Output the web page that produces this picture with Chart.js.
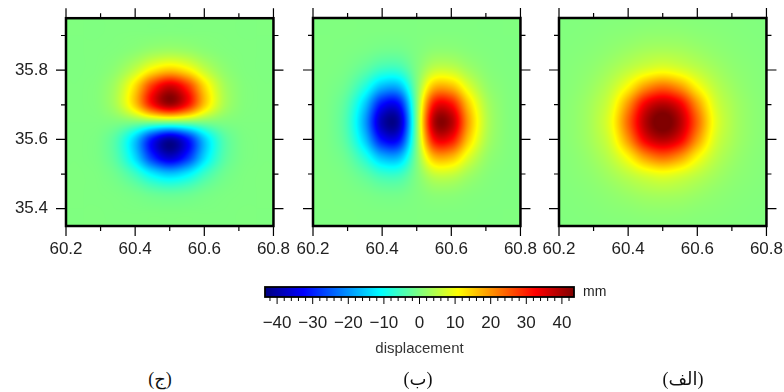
<!DOCTYPE html>
<html>
<head>
<meta charset="utf-8">
<script src="https://cdn.jsdelivr.net/npm/chart.js@4.4.1/dist/chart.umd.min.js"></script>
<style>
  body { margin: 0; width: 784px; height: 392px; overflow: hidden; background: #fff; position: relative; }
  canvas.panel { position: absolute; top: 0; }
  #colorbar { position: absolute; left: 240px; top: 270px; }
  .tag { position: absolute; top: 368px; font-family: "Liberation Serif", "DejaVu Sans", serif; font-size: 18px; color: #111; transform: translateX(-50%); }
</style>
</head>
<body>
<canvas id="panelJim" class="panel" width="296" height="270" style="left:0px"></canvas>
<canvas id="panelBe" class="panel" width="296" height="270" style="left:247px"></canvas>
<canvas id="panelAlef" class="panel" width="296" height="270" style="left:493px"></canvas>
<canvas id="colorbar" width="380" height="100"></canvas>
<div class="tag" dir="rtl" style="left:160px">(ج)</div>
<div class="tag" dir="rtl" style="left:418px">(ب)</div>
<div class="tag" dir="rtl" style="left:683px">(الف)</div>

<script>
// Displacement maps (mm) on a 0.05 degree grid
const LON = [60.2, 60.25, 60.3, 60.35, 60.4, 60.45, 60.5, 60.55, 60.6, 60.65, 60.7, 60.75, 60.8];
// north to south, so rows read like the picture
const LAT = [35.95, 35.9, 35.85, 35.8, 35.75, 35.7, 35.65, 35.6, 35.55, 35.5, 35.45, 35.4, 35.35];

const LON_LABELS = [60.2, 60.4, 60.6, 60.8];
const LON_MINOR = [60.3, 60.5, 60.7];
const LAT_LABELS = [35.4, 35.6, 35.8];
const LAT_MINOR = [35.5, 35.7, 35.9];

const CB_MIN = -43.4;
const CB_MAX = 43.4;
const CB_LABELS = [-40, -30, -20, -10, 0, 10, 20, 30, 40];
const CB_MINOR = [-42, -38, -36, -34, -32, -28, -26, -24, -22, -18, -16, -14, -12, -8, -6, -4, -2,
                  2, 4, 6, 8, 12, 14, 16, 18, 22, 24, 26, 28, 32, 34, 36, 38, 42];

// (ج) north component
const GRID_JIM = [
  [0, 0, 0, 0, 0, 0, 0, 0, 0, 0, 0, 0, 0],
  [0, 0, 0, 0.1, 0.2, 0.3, 0.4, 0.3, 0.2, 0.1, 0, 0, 0],
  [0, 0, 0.1, 0.4, 1.3, 2.8, 3.5, 2.8, 1.3, 0.4, 0.1, 0, 0],
  [0, 0, 0.3, 1.8, 5.9, 12.3, 15.6, 12.3, 5.9, 1.8, 0.3, 0, 0],
  [0, 0.1, 0.8, 4.3, 14.2, 29.4, 37.4, 29.4, 14.2, 4.3, 0.8, 0.1, 0],
  [0, 0.1, 0.8, 4.6, 15.3, 31.6, 40.2, 31.6, 15.3, 4.6, 0.8, 0.1, 0],
  [0, 0, 0, 0, 0, 0, 0, 0, 0, 0, 0, 0, 0],
  [0, -0.1, -0.8, -4.6, -15.3, -31.6, -40.2, -31.6, -15.3, -4.6, -0.8, -0.1, 0],
  [0, -0.1, -0.8, -4.3, -14.2, -29.4, -37.4, -29.4, -14.2, -4.3, -0.8, -0.1, 0],
  [0, 0, -0.3, -1.8, -5.9, -12.3, -15.6, -12.3, -5.9, -1.8, -0.3, 0, 0],
  [0, 0, -0.1, -0.4, -1.3, -2.8, -3.5, -2.8, -1.3, -0.4, -0.1, 0, 0],
  [0, 0, 0, -0.1, -0.2, -0.3, -0.4, -0.3, -0.2, -0.1, 0, 0, 0],
  [0, 0, 0, 0, 0, 0, 0, 0, 0, 0, 0, 0, 0]
];

// (ب) east component
const GRID_BE = [
  [0, 0, 0, 0, 0, 0, 0, 0, 0, 0, 0, 0, 0],
  [0, 0, 0, -0.1, -0.2, -0.2, 0, 0.2, 0.2, 0.1, 0, 0, 0],
  [0, 0, -0.2, -0.7, -1.5, -1.5, 0, 1.5, 1.5, 0.7, 0.2, 0, 0],
  [0, -0.1, -0.8, -3.0, -6.2, -6.1, 0, 6.1, 6.2, 3.0, 0.8, 0.1, 0],
  [0, -0.4, -2.2, -8.3, -17.3, -17.2, 0, 17.2, 17.3, 8.3, 2.2, 0.4, 0],
  [-0.1, -0.7, -4.2, -15.3, -32.0, -31.7, 0, 31.7, 32.0, 15.3, 4.2, 0.7, 0.1],
  [-0.1, -0.8, -5.1, -18.8, -39.3, -39.0, 0, 39.0, 39.3, 18.8, 5.1, 0.8, 0.1],
  [-0.1, -0.7, -4.2, -15.3, -32.0, -31.7, 0, 31.7, 32.0, 15.3, 4.2, 0.7, 0.1],
  [0, -0.4, -2.2, -8.3, -17.3, -17.2, 0, 17.2, 17.3, 8.3, 2.2, 0.4, 0],
  [0, -0.1, -0.8, -3.0, -6.2, -6.1, 0, 6.1, 6.2, 3.0, 0.8, 0.1, 0],
  [0, 0, -0.2, -0.7, -1.5, -1.5, 0, 1.5, 1.5, 0.7, 0.2, 0, 0],
  [0, 0, 0, -0.1, -0.2, -0.2, 0, 0.2, 0.2, 0.1, 0, 0, 0],
  [0, 0, 0, 0, 0, 0, 0, 0, 0, 0, 0, 0, 0]
];

// (الف) vertical component
const GRID_ALEF = [
  [0.1, 0.2, 0.3, 0.4, 0.5, 0.6, 0.7, 0.6, 0.5, 0.4, 0.3, 0.2, 0.1],
  [0.2, 0.3, 0.5, 0.8, 1.1, 1.5, 1.6, 1.5, 1.1, 0.8, 0.5, 0.3, 0.2],
  [0.3, 0.5, 0.9, 1.6, 2.6, 3.6, 4, 3.6, 2.6, 1.6, 0.9, 0.5, 0.3],
  [0.4, 0.8, 1.6, 3.2, 5.5, 8, 9.5, 8, 5.5, 3.2, 1.6, 0.8, 0.4],
  [0.5, 1.1, 2.6, 5.5, 11.5, 20, 24, 20, 11.5, 5.5, 2.6, 1.1, 0.5],
  [0.6, 1.5, 3.6, 8, 20, 34, 39, 34, 20, 8, 3.6, 1.5, 0.6],
  [0.7, 1.6, 4, 9.5, 24, 39, 45, 39, 24, 9.5, 4, 1.6, 0.7],
  [0.6, 1.5, 3.6, 8, 20, 34, 39, 34, 20, 8, 3.6, 1.5, 0.6],
  [0.5, 1.1, 2.6, 5.5, 11.5, 20, 24, 20, 11.5, 5.5, 2.6, 1.1, 0.5],
  [0.4, 0.8, 1.6, 3.2, 5.5, 8, 9.5, 8, 5.5, 3.2, 1.6, 0.8, 0.4],
  [0.3, 0.5, 0.9, 1.6, 2.6, 3.6, 4, 3.6, 2.6, 1.6, 0.9, 0.5, 0.3],
  [0.2, 0.3, 0.5, 0.8, 1.1, 1.5, 1.6, 1.5, 1.1, 0.8, 0.5, 0.3, 0.2],
  [0.1, 0.2, 0.3, 0.4, 0.5, 0.6, 0.7, 0.6, 0.5, 0.4, 0.3, 0.2, 0.1]
];

const FONT = "'Liberation Sans', Arial, Helvetica, sans-serif";
const TEXT = '#222';

// jet colour map over the colour bar range
function jet(v) {
    const t = Math.min(1, Math.max(0, (v - CB_MIN) / (CB_MAX - CB_MIN)));
    const ch = k => Math.round(255 * Math.min(1, Math.max(0, 1.5 - Math.abs(4 * t - k))));
    return [ch(3), ch(2), ch(1)];
}

// Catmull-Rom shading between grid nodes
function cubic(p0, p1, p2, p3, t) {
    return p1 + 0.5 * t * (p2 - p0 + t * (2 * p0 - 5 * p1 + 4 * p2 - p3 + t * (3 * (p1 - p2) + p3 - p0)));
}

function sampleGrid(grid, fx, fy) {
    const ny = grid.length, nx = grid[0].length;
    const ix = Math.floor(fx), iy = Math.floor(fy);
    const tx = fx - ix, ty = fy - iy;
    const at = (r, c) => grid[Math.min(ny - 1, Math.max(0, r))][Math.min(nx - 1, Math.max(0, c))];
    const rows = [];
    for (let k = -1; k <= 2; k++) {
        rows.push(cubic(at(iy + k, ix - 1), at(iy + k, ix), at(iy + k, ix + 1), at(iy + k, ix + 2), tx));
    }
    return cubic(rows[0], rows[1], rows[2], rows[3], ty);
}

function heatmapPlugin(grid) {
    return {
        id: 'heatmap',
        beforeDatasetsDraw(chart) {
            const { ctx, chartArea: a, scales: { x, y } } = chart;
            const w = Math.round(a.right - a.left), h = Math.round(a.bottom - a.top);
            const off = document.createElement('canvas');
            off.width = w;
            off.height = h;
            const octx = off.getContext('2d');
            const img = octx.createImageData(w, h);
            for (let py = 0; py < h; py++) {
                const fy = (y.getValueForPixel(a.top + py + 0.5) - LAT[0]) / (LAT[1] - LAT[0]);
                for (let px = 0; px < w; px++) {
                    const fx = (x.getValueForPixel(a.left + px + 0.5) - LON[0]) / (LON[1] - LON[0]);
                    const c = jet(sampleGrid(grid, fx, fy));
                    const i = (py * w + px) * 4;
                    img.data[i] = c[0];
                    img.data[i + 1] = c[1];
                    img.data[i + 2] = c[2];
                    img.data[i + 3] = 255;
                }
            }
            octx.putImageData(img, 0, 0);
            ctx.drawImage(off, a.left, a.top, a.right - a.left, a.bottom - a.top);
        }
    };
}

// GMT style frame: thick border, outward ticks on all four sides
const framePlugin = {
    id: 'frame',
    afterDraw(chart) {
        const { ctx, chartArea: a, scales: { x, y } } = chart;
        ctx.save();
        ctx.strokeStyle = '#000';
        ctx.lineWidth = 1.2;
        ctx.beginPath();
        const xTicks = (vals, len) => vals.forEach(v => {
            const p = x.getPixelForValue(v);
            ctx.moveTo(p, a.top); ctx.lineTo(p, a.top - len);
            ctx.moveTo(p, a.bottom); ctx.lineTo(p, a.bottom + len);
        });
        const yTicks = (vals, len) => vals.forEach(v => {
            const p = y.getPixelForValue(v);
            ctx.moveTo(a.left, p); ctx.lineTo(a.left - len, p);
            ctx.moveTo(a.right, p); ctx.lineTo(a.right + len, p);
        });
        xTicks(LON_LABELS, 10);
        xTicks(LON_MINOR, 5);
        yTicks(LAT_LABELS, 10);
        yTicks(LAT_MINOR, 5);
        ctx.stroke();
        ctx.lineWidth = 2.5;
        ctx.strokeRect(a.left, a.top, a.right - a.left, a.bottom - a.top);
        ctx.restore();
    }
};

function makePanel(id, grid, showLatLabels) {
    return new Chart(document.getElementById(id), {
        type: 'scatter',
        data: { datasets: [] },
        options: {
            responsive: false,
            animation: false,
            layout: { padding: { top: 18, right: 22, left: 0, bottom: 0 } },
            plugins: { legend: { display: false }, tooltip: { enabled: false } },
            scales: {
                x: {
                    type: 'linear',
                    min: LON[0],
                    max: LON[LON.length - 1],
                    afterBuildTicks: s => { s.ticks = LON_LABELS.map(v => ({ value: v })); },
                    afterFit: s => { s.height = 44; },
                    border: { display: false },
                    grid: { drawOnChartArea: false, drawTicks: true, tickLength: 7, color: 'rgba(0,0,0,0)' },
                    ticks: {
                        padding: 6,
                        color: TEXT,
                        font: { size: 17, family: FONT },
                        maxRotation: 0,
                        autoSkip: false,
                        callback: v => v.toFixed(1)
                    }
                },
                y: {
                    type: 'linear',
                    min: LAT[LAT.length - 1],
                    max: LAT[0],
                    afterBuildTicks: s => { s.ticks = LAT_LABELS.map(v => ({ value: v })); },
                    afterFit: s => { s.width = 66; },
                    border: { display: false },
                    grid: { drawOnChartArea: false, drawTicks: true, tickLength: 10, color: 'rgba(0,0,0,0)' },
                    ticks: {
                        display: showLatLabels,
                        padding: 8,
                        color: TEXT,
                        font: { size: 17, family: FONT },
                        autoSkip: false,
                        callback: v => v.toFixed(1)
                    }
                }
            }
        },
        plugins: [heatmapPlugin(grid), framePlugin]
    });
}

const colorbarPlugin = {
    id: 'colorbar',
    beforeDatasetsDraw(chart) {
        const { ctx, chartArea: a, scales: { x } } = chart;
        for (let px = Math.floor(a.left); px < a.right; px++) {
            const c = jet(x.getValueForPixel(px + 0.5));
            ctx.fillStyle = `rgb(${c[0]},${c[1]},${c[2]})`;
            ctx.fillRect(px, a.top, 1, a.bottom - a.top);
        }
    },
    afterDraw(chart) {
        const { ctx, chartArea: a, scales: { x } } = chart;
        ctx.save();
        ctx.strokeStyle = '#000';
        ctx.lineWidth = 1;
        ctx.beginPath();
        CB_LABELS.forEach(v => { const p = x.getPixelForValue(v); ctx.moveTo(p, a.bottom); ctx.lineTo(p, a.bottom + 7); });
        CB_MINOR.forEach(v => { const p = x.getPixelForValue(v); ctx.moveTo(p, a.bottom); ctx.lineTo(p, a.bottom + 4); });
        ctx.stroke();
        ctx.lineWidth = 1.8;
        ctx.strokeRect(a.left, a.top, a.right - a.left, a.bottom - a.top);
        ctx.fillStyle = TEXT;
        ctx.font = '14px ' + FONT;
        ctx.textBaseline = 'middle';
        ctx.fillText('mm', a.right + 9, (a.top + a.bottom) / 2);
        ctx.restore();
    }
};

document.addEventListener('DOMContentLoaded', function() {
    makePanel('panelJim', GRID_JIM, true);
    makePanel('panelBe', GRID_BE, false);
    makePanel('panelAlef', GRID_ALEF, false);

    new Chart(document.getElementById('colorbar'), {
        type: 'scatter',
        data: { datasets: [] },
        options: {
            responsive: false,
            animation: false,
            layout: { padding: { top: 17, left: 25, right: 46, bottom: 0 } },
            plugins: { legend: { display: false }, tooltip: { enabled: false } },
            scales: {
                x: {
                    type: 'linear',
                    min: CB_MIN,
                    max: CB_MAX,
                    afterBuildTicks: s => { s.ticks = CB_LABELS.map(v => ({ value: v })); },
                    afterFit: s => { s.height = 73; },
                    border: { display: false },
                    grid: { drawOnChartArea: false, drawTicks: true, tickLength: 7, color: 'rgba(0,0,0,0)' },
                    ticks: {
                        padding: 9,
                        color: TEXT,
                        font: { size: 17, family: FONT },
                        maxRotation: 0,
                        autoSkip: false,
                        callback: v => (v < 0 ? '\u2212' + Math.abs(v) : String(v))
                    },
                    title: {
                        display: true,
                        text: 'displacement',
                        color: '#333',
                        font: { size: 15, family: FONT },
                        padding: { top: 0, bottom: 12 }
                    }
                },
                y: { display: false, min: 0, max: 1 }
            }
        },
        plugins: [colorbarPlugin]
    });
});
</script>
</body>
</html>
